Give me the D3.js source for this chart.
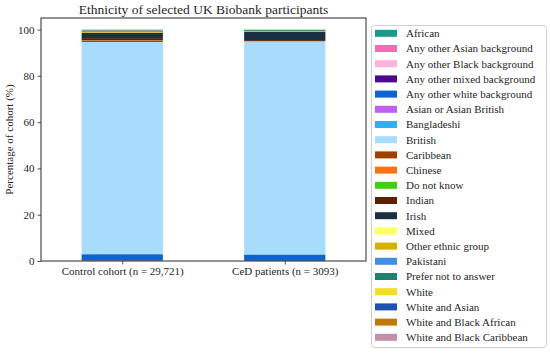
<!DOCTYPE html>
<html>
<head>
<meta charset="utf-8">
<script src="https://cdn.jsdelivr.net/npm/d3@7"></script>
<style>
  body { margin: 0; background: #fff; }
  svg text { font-family: "Liberation Serif", "DejaVu Serif", serif; fill: #262626; }
</style>
</head>
<body>
<svg id="chart" width="550" height="353"></svg>
<script>
// groups on the x axis
const cohorts = ['Control cohort (n = 29,721)', 'CeD patients (n = 3093)'];

// ethnic categories, stacked bottom to top
const ethnicities = [
    'African', 'Any other Asian background', 'Any other Black background',
    'Any other mixed background', 'Any other white background', 'Asian or Asian British',
    'Bangladeshi', 'British', 'Caribbean', 'Chinese', 'Do not know', 'Indian', 'Irish',
    'Mixed', 'Other ethnic group', 'Pakistani', 'Prefer not to answer', 'White',
    'White and Asian', 'White and Black African', 'White and Black Caribbean'
];

const ethnicityColors = [
    '#1a9a8a', '#f76ab4', '#ffb3dc', '#4b0a8c', '#0a64d2', '#c060f0',
    '#30b0f0', '#a8dcfc', '#a04000', '#ff7010', '#40d010', '#5a2000', '#1a3040',
    '#ffff60', '#d4b000', '#4090e0', '#208070', '#f0e020',
    '#2050b0', '#c07808', '#c090a8'
];

// percentage of cohort, same order as ethnicities
const controlPct = [0.1, 0.1, 0.02, 0.1, 2.6, 0.05, 0.02, 91.66, 0.6, 0.1, 0.05, 0.9, 2.3,
    0.05, 0.3, 0.2, 0.5, 0.1, 0.1, 0.05, 0.1];
const cedPct = [0.03, 0.03, 0.0, 0.06, 2.7, 0.0, 0.0, 92.1, 0.1, 0.03, 0.0, 0.4, 3.6,
    0.03, 0.2, 0.1, 0.4, 0.1, 0.06, 0.03, 0.03];

const yTicks = [0, 20, 40, 60, 80, 100];

const rows = cohorts.map((c, i) => {
    const row = { cohort: c };
    const vals = i === 0 ? controlPct : cedPct;
    ethnicities.forEach((e, j) => { row[e] = vals[j]; });
    return row;
});

const svg = d3.select('#chart');
const margin = { left: 41, right: 184, top: 18, bottom: 92 };
const width = 550 - margin.left - margin.right;
const height = 353 - margin.top - margin.bottom;

const g = svg.append('g')
    .attr('transform', `translate(${margin.left},${margin.top})`);

// matplotlib style: categories at 0 and 1, xlim -0.5..1.5, bar width 0.5
const x = d3.scaleLinear().domain([-0.5, 1.5]).range([0, width]);
const y = d3.scaleLinear().domain([0, 105]).range([height, 0]);
const barW = x(0.5) - x(0);

const stacked = d3.stack().keys(ethnicities)(rows);

g.selectAll('g.layer')
    .data(stacked)
    .join('g')
    .attr('class', 'layer')
    .attr('fill', (d, i) => ethnicityColors[i])
    .selectAll('rect')
    .data(d => d)
    .join('rect')
    .attr('x', (d, i) => x(i) - barW / 2)
    .attr('width', barW)
    .attr('y', d => y(d[1]))
    .attr('height', d => Math.max(0, y(d[0]) - y(d[1])));

// axes
const yAxis = g.append('g')
    .call(d3.axisLeft(y).tickValues(yTicks).tickSize(3.5).tickPadding(3));
yAxis.select('.domain').remove();
yAxis.selectAll('text').attr('font-size', 11);

const xAxis = g.append('g')
    .attr('transform', `translate(0,${height})`)
    .call(d3.axisBottom(x).tickValues([0, 1]).tickFormat(i => cohorts[i]).tickSize(3.5).tickPadding(3));
xAxis.select('.domain').remove();
xAxis.selectAll('text').attr('font-size', 11);
svg.selectAll('.tick line').attr('stroke', '#262626').attr('stroke-width', 0.8);

// frame
g.append('rect')
    .attr('width', width)
    .attr('height', height)
    .attr('fill', 'none')
    .attr('stroke', '#262626')
    .attr('stroke-width', 1);

// title
svg.append('text')
    .attr('x', margin.left + width / 2)
    .attr('y', 14)
    .attr('text-anchor', 'middle')
    .attr('font-size', 13.5)
    .text('Ethnicity of selected UK Biobank participants');

// y label
svg.append('text')
    .attr('transform', `translate(13,${margin.top + height / 2}) rotate(-90)`)
    .attr('text-anchor', 'middle')
    .attr('font-size', 11)
    .text('Percentage of cohort (%)');

// legend
const legX = 371, legY = 25, legW = 175, rowH = 15.2;
const legend = svg.append('g');
legend.append('rect')
    .attr('x', legX + 0.5)
    .attr('y', legY + 0.5)
    .attr('width', legW)
    .attr('height', 322)
    .attr('rx', 3)
    .attr('fill', 'rgba(255,255,255,0.8)')
    .attr('stroke', '#d0d0d0')
    .attr('stroke-width', 1);

const items = legend.selectAll('g.item')
    .data(ethnicities)
    .join('g')
    .attr('class', 'item')
    .attr('transform', (d, i) => `translate(${legX}, ${legY + 8.3 + i * rowH})`);

items.append('rect')
    .attr('x', 4)
    .attr('y', -3.5)
    .attr('width', 22)
    .attr('height', 7)
    .attr('fill', (d, i) => ethnicityColors[i]);

items.append('text')
    .attr('x', 35)
    .attr('y', 0)
    .attr('dy', '0.35em')
    .attr('font-size', 11)
    .text(d => d);
</script>
</body>
</html>
